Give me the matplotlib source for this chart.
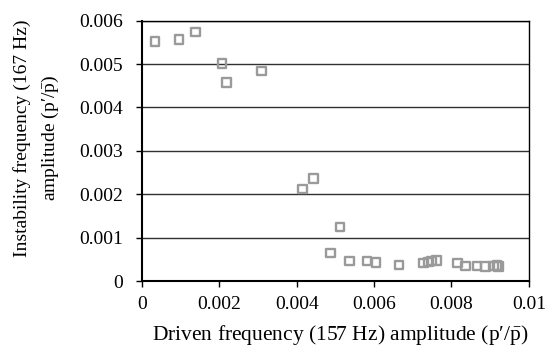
import matplotlib
matplotlib.use('Agg')
import matplotlib.pyplot as plt
from matplotlib.ticker import FuncFormatter

plt.rcParams['font.family'] = ['Liberation Serif', 'DejaVu Serif']
plt.rcParams['mathtext.fontset'] = 'custom'
plt.rcParams['mathtext.rm'] = 'Liberation Serif'

# driven (157 Hz) amplitude vs instability (167 Hz) amplitude
driven_amp = [0.00034, 0.00096, 0.00139, 0.00207, 0.00218, 0.00309,
              0.00415, 0.00444, 0.00512, 0.00488, 0.00537, 0.00582,
              0.00605, 0.00665, 0.00728, 0.00740, 0.00749, 0.00761,
              0.00815, 0.00837, 0.00866, 0.00888, 0.00908, 0.00918,
              0.00922]
instab_amp = [0.00552, 0.00557, 0.00574, 0.00501, 0.00458, 0.00484,
              0.00212, 0.00236, 0.00124, 0.00065, 0.00046, 0.00046,
              0.00043, 0.00037, 0.00042, 0.00044, 0.00046, 0.00047,
              0.00042, 0.00035, 0.00035, 0.00033, 0.00035, 0.00036,
              0.00033]

x_ticks = [0, 0.002, 0.004, 0.006, 0.008, 0.01]
y_ticks = [0, 0.001, 0.002, 0.003, 0.004, 0.005, 0.006]

ratio = 'p\u2032/$\\bar{\\mathrm{p}}$'

fig = plt.figure(figsize=(5.48, 3.48), dpi=100)
ax = fig.add_axes([0.259, 0.1925, 0.706, 0.748])

ax.scatter(driven_amp, instab_amp, marker='s', s=38, facecolors='none',
           edgecolors='#9a9a9a', linewidths=1.7, zorder=3)

ax.set_xlim(0, 0.01)
ax.set_ylim(0, 0.006)
ax.set_xticks(x_ticks)
ax.set_yticks(y_ticks)
fmt = FuncFormatter(lambda v, p: '%g' % round(v, 4))
ax.xaxis.set_major_formatter(fmt)
ax.yaxis.set_major_formatter(fmt)

ax.yaxis.grid(True, color='#303030', linewidth=1.0)
ax.set_axisbelow(True)
for s in ['top', 'right']:
    ax.spines[s].set_linewidth(1.0)
for s in ['left', 'bottom']:
    ax.spines[s].set_linewidth(1.5)

ax.tick_params(axis='both', direction='out', length=4.5, width=1,
               labelsize=14)
ax.tick_params(axis='y', pad=9)
ax.tick_params(axis='x', pad=6)

ax.set_xlabel('Driven frequency (157 Hz) amplitude (' + ratio + ')',
              fontsize=15.5)
ax.xaxis.set_label_coords(0.513, -0.163)
ax.set_ylabel('Instability frequency (167 Hz)\namplitude (' + ratio + ')',
              fontsize=14, linespacing=1.6)
ax.yaxis.set_label_coords(-0.208, 0.55)

fig.savefig('out.png', dpi=100)
